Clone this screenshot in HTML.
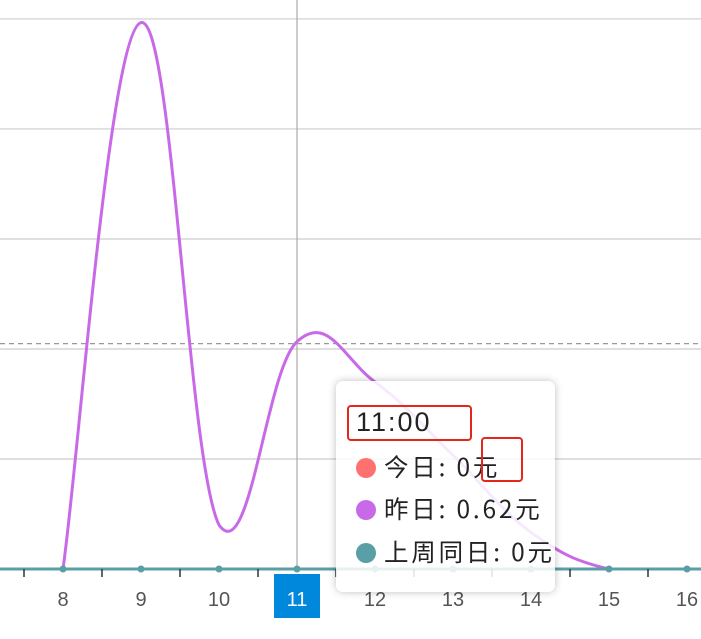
<!DOCTYPE html>
<html><head><meta charset="utf-8">
<style>
html,body{margin:0;padding:0;background:#fff;}
body{width:701px;height:639px;overflow:hidden;position:relative;font-family:"Liberation Sans","Noto Sans CJK SC",sans-serif;}
svg{position:absolute;left:0;top:0;}
.tip{position:absolute;left:336px;top:381px;width:219px;height:211px;background:rgba(255,255,255,0.86);border-radius:7px;box-shadow:0 0 8px rgba(0,0,0,0.25);}
.row{position:absolute;left:20px;font-size:24.5px;line-height:30px;color:#222;white-space:nowrap;letter-spacing:2.8px;font-family:"Noto Sans CJK SC","Liberation Sans",sans-serif;}
.dot{display:inline-block;width:20px;height:20px;border-radius:50%;vertical-align:-2px;margin-right:8px;}
.red{position:absolute;border:2.5px solid #e5261b;border-radius:4px;}
</style></head><body>
<svg id="chart" width="701" height="639"></svg>
<div class="tip">
  <div class="row" style="left:20px;top:26px;font-size:27px;letter-spacing:2px;font-family:'Liberation Sans',sans-serif;">11:00</div>
  <div class="red" style="left:11px;top:24px;width:121px;height:32px;"></div>
  <div class="row" style="top:71px;"><span class="dot" style="background:#ff7070"></span>今日: 0元</div>
  <div class="red" style="left:145px;top:56px;width:38px;height:41px;"></div>
  <div class="row" style="top:113px;"><span class="dot" style="background:#c86ae8"></span>昨日: 0.62元</div>
  <div class="row" style="top:156px;"><span class="dot" style="background:#5a9ea6"></span>上周同日: 0元</div>
</div>
<script>
const categories=[7,8,9,10,11,12,13,14,15,16,17];
const yesterday=[null,0,1.49,0.12,0.62,0.51,0.31,0.1,0,0,0];
const lastWeek=[0,0,0,0,0,0,0,0,0,0,0];
const gridValues=[0,0.3,0.6,0.9,1.2,1.5];
const avgValue=0.62;
const activeCategory=11;

const NS="http://www.w3.org/2000/svg";
const svg=document.getElementById('chart');
const xS=c=>63+(c-8)*78;
const yS=v=>569-v*366.7;
function mk(t,a){const e=document.createElementNS(NS,t);for(const k in a)e.setAttribute(k,a[k]);svg.appendChild(e);return e;}
gridValues.forEach(v=>{if(v===0)return;
  const l=mk('line',{x1:0,x2:701,y1:yS(v),y2:yS(v),stroke:'#ccc','stroke-width':1.2});
  
  });
const av=mk('line',{x1:0,x2:701,y1:yS(avgValue)+2,y2:yS(avgValue)+2,stroke:'#999','stroke-width':1.2,'stroke-dasharray':'5,4'});


const vl=mk('line',{x1:xS(activeCategory),x2:xS(activeCategory),y1:0,y2:569,stroke:'#aaa','stroke-width':1.2});


function smooth(pts){let d='M'+pts[0][0]+','+pts[0][1];const base=yS(0);
  for(let i=0;i<pts.length-1;i++){const p0=pts[i-1]||pts[i],p1=pts[i],p2=pts[i+1],p3=pts[i+2]||p2,t=0.2;
    const c1y=Math.min(base,p1[1]+(p2[1]-p0[1])*t),c2y=Math.min(base,p2[1]-(p3[1]-p1[1])*t);
    d+=' C'+(p1[0]+(p2[0]-p0[0])*t)+','+c1y+' '+(p2[0]-(p3[0]-p1[0])*t)+','+c2y+' '+p2[0]+','+p2[1];}
  return d;}
const yp=[];categories.forEach((c,i)=>{if(yesterday[i]!==null)yp.push([xS(c),yS(yesterday[i])]);});
const yl=mk('path',{d:smooth(yp),fill:'none',stroke:'#c86ae8','stroke-width':3});


const lp=categories.map((c,i)=>[xS(c),yS(lastWeek[i])]);
const ll=mk('path',{d:smooth(lp),fill:'none',stroke:'#5a9ea6','stroke-width':3});


categories.forEach((c,i)=>{
  const p=mk('circle',{cx:xS(c),cy:yS(lastWeek[i]),r:3.5,fill:'#5a9ea6'});
  
  
  const t=mk('line',{x1:xS(c)-39,x2:xS(c)-39,y1:569,y2:577,stroke:'#333','stroke-width':1.5});
  
  
  if(c>=8&&c<=16){
    if(c===activeCategory){const r=mk('rect',{x:xS(c)-23,y:574,width:46,height:44,fill:'#0088dd'});
      
      }
    const tx=mk('text',{x:xS(c),y:606,'text-anchor':'middle','font-size':20,fill:c===activeCategory?'#fff':'#555','font-family':'Liberation Sans, sans-serif'});
    tx.textContent=c;
    
    
  }
});
</script>
</body></html>
